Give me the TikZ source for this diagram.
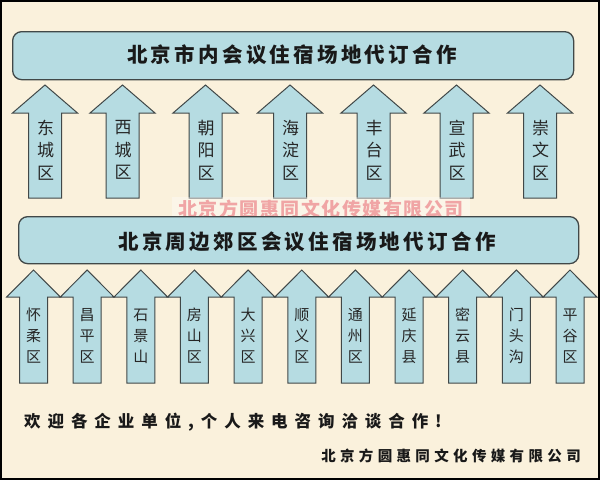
\documentclass[tikz,border=0pt]{standalone}
\usepackage{fontspec}
\newfontfamily\cjk{Noto Sans CJK SC}
\newfontfamily\cjktitle[LetterSpace=16]{Noto Sans CJK SC}
\newfontfamily\cjkwm[LetterSpace=8]{Noto Sans CJK SC}
\newfontfamily\cjkwide[LetterSpace=42]{Noto Sans CJK SC}
\newfontfamily\cjkco[LetterSpace=30]{Noto Sans CJK SC}
\definecolor{bgc}{RGB}{250,241,220}
\definecolor{boxc}{RGB}{182,220,226}
\definecolor{edgec}{RGB}{65,72,72}
\definecolor{wmc}{RGB}{240,165,165}
\tikzset{
  panel/.style={draw=edgec, fill=boxc, line width=1.3pt, rounded corners=9pt},
  arrowbody/.style={draw=edgec, fill=boxc, line width=1pt, line join=miter},
  titletext/.style={font=\cjktitle\bfseries\fontsize{20.5}{24}\selectfont, text=black!90},
  toplabel/.style={font=\cjk\fontsize{17}{22.5}\selectfont, align=center, text=black!85, inner sep=0pt},
  botlabel/.style={font=\cjk\fontsize{15}{21}\selectfont, align=center, text=black!85, inner sep=0pt},
}
\begin{document}
\begin{tikzpicture}[x=1pt,y=-1pt]
\useasboundingbox (0,0) rectangle (600,480);
\fill[bgc] (0,0) rectangle (600,480);
% top panel
\node[panel, minimum width=561pt, minimum height=48pt, anchor=north west, inner sep=0pt] (toppanel) at (12,31) {};
\node[titletext] (toptitle) at (292,55) {北京市内会议住宿场地代订合作};
% top arrows
\foreach \c/\t [count=\i] in {45/东\\城\\区, 122.5/西\\城\\区, 205.5/朝\\阳\\区, 290/海\\淀\\区, 373.5/丰\\台\\区, 456.5/宣\\武\\区, 540/崇\\文\\区}{
  \draw[arrowbody] (\c-16.5,198) -- (\c-16.5,113) -- (\c-32.5,113) -- (\c,85) -- (\c+32.5,113) -- (\c+16.5,113) -- (\c+16.5,198) -- cycle;
  \node[toplabel] (top\i) at (\c+0.5,150) {\t};
}
% watermark
\fill[white, opacity=0.35] (172,197) rectangle (470,223);
\node[font=\cjkwm\bfseries\fontsize{19}{22}\selectfont, text=wmc, inner sep=0pt] (watermark) at (321,209) {北京方圆惠同文化传媒有限公司};
% second panel
\node[panel, minimum width=560pt, minimum height=47pt, anchor=north west, inner sep=0pt] (botpanel) at (18,216) {};
\node[titletext] (bottitle) at (307,242) {北京周边郊区会议住宿场地代订合作};
% bottom arrows
\foreach \t [count=\i] in {怀\\柔\\区, 昌\\平\\区, 石\\景\\山, 房\\山\\区, 大\\兴\\区, 顺\\义\\区, 通\\州\\区, 延\\庆\\县, 密\\云\\县, 门\\头\\沟, 平\\谷\\区}{
  \pgfmathsetmacro{\c}{33.5+53.65*(\i-1)}
  \draw[arrowbody] (\c-14,383) -- (\c-14,297) -- (\c-26.8,297) -- (\c,270) -- (\c+26.8,297) -- (\c+14,297) -- (\c+14,383) -- cycle;
  \node[botlabel] (bot\i) at (\c,336) {\t};
}
% bottom texts
\node[font=\cjkwide\bfseries\fontsize{16.5}{20}\selectfont, anchor=west, inner sep=0pt, text=black!90] (welcome) at (24,422) {欢迎各企业单位,个人来电咨询洽谈合作!};
\node[font=\cjkco\bfseries\fontsize{14.5}{18}\selectfont, anchor=east, inner sep=0pt, text=black!90] (company) at (581,456) {北京方圆惠同文化传媒有限公司};
% frame
\draw[black, line width=2pt] (1,1) rectangle (599,479);
\end{tikzpicture}
\end{document}
